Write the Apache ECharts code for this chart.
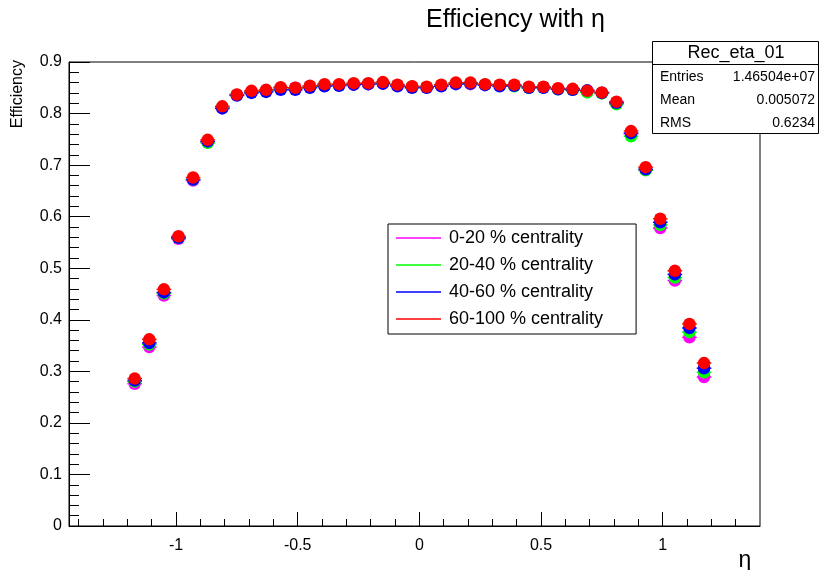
<!DOCTYPE html>
<html>
<head>
<meta charset="utf-8">
<script src="https://cdn.jsdelivr.net/npm/echarts@6/dist/echarts.min.js"></script>
<style>html,body{margin:0;padding:0;background:#fff}#c{width:821px;height:570px}</style>
</head>
<body>
<div id="c"></div>
<script>
const etaBins = [-1.17,-1.11,-1.05,-0.99,-0.93,-0.87,-0.81,-0.75,-0.69,-0.63,-0.57,-0.51,-0.45,-0.39,-0.33,-0.27,-0.21,-0.15,-0.09,-0.03,
                 0.03,0.09,0.15,0.21,0.27,0.33,0.39,0.45,0.51,0.57,0.63,0.69,0.75,0.81,0.87,0.93,0.99,1.05,1.11,1.17];
const binHalfWidth = 0.03;

const eff0_20   = [0.276,0.347,0.447,0.557,0.670,0.745,0.811,0.836,0.842,0.844,0.849,0.850,0.852,0.854,0.855,0.856,0.857,0.858,0.854,0.852,
                   0.851,0.854,0.858,0.857,0.856,0.854,0.854,0.851,0.851,0.848,0.846,0.843,0.840,0.820,0.761,0.691,0.578,0.476,0.366,0.289];
const eff20_40  = [0.280,0.352,0.451,0.559,0.672,0.743,0.812,0.836,0.842,0.845,0.849,0.849,0.852,0.855,0.855,0.857,0.858,0.859,0.855,0.852,
                   0.851,0.855,0.859,0.858,0.856,0.855,0.853,0.850,0.851,0.847,0.846,0.841,0.839,0.818,0.756,0.690,0.584,0.482,0.376,0.298];
const eff40_60  = [0.282,0.355,0.453,0.559,0.672,0.746,0.810,0.835,0.840,0.842,0.846,0.846,0.850,0.853,0.854,0.856,0.857,0.858,0.853,0.850,
                   0.850,0.853,0.857,0.858,0.855,0.853,0.854,0.850,0.850,0.847,0.846,0.845,0.840,0.821,0.762,0.692,0.589,0.488,0.384,0.306];
const eff60_100 = [0.286,0.362,0.459,0.562,0.676,0.749,0.814,0.837,0.844,0.846,0.851,0.850,0.854,0.857,0.857,0.859,0.859,0.861,0.856,0.853,
                   0.852,0.856,0.860,0.860,0.857,0.856,0.856,0.852,0.852,0.849,0.848,0.844,0.841,0.823,0.766,0.696,0.596,0.495,0.392,0.316];

const seriesNames  = ['0-20 % centrality','20-40 % centrality','40-60 % centrality','60-100 % centrality'];
const seriesColors = ['#ff00ff','#00ff00','#0000ff','#ff0000'];
const seriesValues = [eff0_20, eff20_40, eff40_60, eff60_100];

const xMajorTicks = [-1,-0.5,0,0.5,1];
const xTickLabels = ['-1','-0.5','0','0.5','1'];
const xMinorTicks = [-1.4,-1.3,-1.2,-1.1,-0.9,-0.8,-0.7,-0.6,-0.4,-0.3,-0.2,-0.1,0.1,0.2,0.3,0.4,0.6,0.7,0.8,0.9,1.1,1.2,1.3];
const yTickLabels = ['0','0.1','0.2','0.3','0.4','0.5','0.6','0.7','0.8','0.9'];

const statsTitle = 'Rec_eta_01';
const statsRows = [['Entries','1.46504e+07'],['Mean','0.005072'],['RMS','0.6234']];

const FONT = '"Liberation Sans", Arial, Helvetica, sans-serif';
const chart = echarts.init(document.getElementById('c'), null, {renderer:'canvas'});

const series = [];
seriesValues.forEach((vals, i) => {
  const pts = etaBins.map((x, j) => [x, vals[j]]);
  series.push({
    type: 'custom',
    silent: true,
    itemStyle: {color: seriesColors[i]},
    encode: {x: 0, y: 1},
    data: pts,
    renderItem: function (params, api) {
      const x = api.value(0), y = api.value(1);
      const p1 = api.coord([x - binHalfWidth, y]);
      const p2 = api.coord([x + binHalfWidth, y]);
      return {type: 'line', shape: {x1: p1[0], y1: p1[1], x2: p2[0], y2: p2[1]},
              style: {stroke: seriesColors[i], lineWidth: 1.5}};
    }
  });
  series.push({
    type: 'scatter',
    name: seriesNames[i],
    silent: true,
    symbol: 'circle',
    symbolSize: 12.5,
    itemStyle: {color: seriesColors[i], opacity: 1},
    data: pts
  });
});

const graphic = [
  {type:'text', x: 18, y: 60, rotation: Math.PI/2,
   style:{text:'Efficiency', font:'16px ' + FONT, fill:'#000', align:'right', verticalAlign:'middle'}},
  {type:'text', x: 745, y: 561,
   style:{text:'η', font:'23px ' + FONT, fill:'#000', align:'center', verticalAlign:'middle'}},
  {type:'rect', shape:{x:652.5, y:41.5, width:166, height:92}, style:{fill:'#fff', stroke:'#000', lineWidth:1}},
  {type:'line', shape:{x1:652.5, y1:64.5, x2:818.5, y2:64.5}, style:{stroke:'#000', lineWidth:1}},
  {type:'text', x: 736, y: 53, style:{text: statsTitle, font:'18px ' + FONT, fill:'#000', align:'center', verticalAlign:'middle'}}
];
statsRows.forEach((r, k) => {
  const yy = 77.3 + k * 23;
  graphic.push({type:'text', x: 660, y: yy, style:{text:r[0], font:'14px ' + FONT, fill:'#000', align:'left', verticalAlign:'middle'}});
  graphic.push({type:'text', x: 815, y: yy, style:{text:r[1], font:'14px ' + FONT, fill:'#000', align:'right', verticalAlign:'middle'}});
});

chart.setOption({
  animation: false,
  backgroundColor: '#fff',
  title: {text: 'Efficiency with η', left: 426, top: 8, padding: 0,
          textStyle: {fontSize: 25, fontWeight: 'normal', color: '#000', fontFamily: FONT}},
  grid: {left: 69, right: 61, top: 62, bottom: 44, show: true, borderColor: '#000', borderWidth: 1, backgroundColor: 'transparent'},
  legend: {
    orient: 'vertical', left: 388, top: 224, padding: [4, 33, 5, 8],
    itemWidth: 45, itemHeight: 1.5, itemGap: 7, icon: 'rect', selectedMode: false,
    borderColor: '#000', borderWidth: 1, backgroundColor: '#fff',
    textStyle: {fontSize: 18, color: '#000', fontFamily: FONT, lineHeight: 20, padding: [0, 0, 0, 3]},
    data: seriesNames
  },
  xAxis: [
    {type: 'value', min: -1.44, max: 1.40, position: 'bottom',
     axisLine: {show: true, onZero: false, lineStyle: {color: '#000', width: 1}},
     axisTick: {show: true, inside: true, length: 14, lineStyle: {color: '#000'}, customValues: xMajorTicks},
     axisLabel: {show: true, customValues: xMajorTicks, margin: 12, fontSize: 16, color: '#000', fontFamily: FONT,
                 formatter: v => { const k = xMajorTicks.findIndex(t => Math.abs(t - v) < 1e-9); return k >= 0 ? xTickLabels[k] : ''; }},
     splitLine: {show: false}},
    {type: 'value', min: -1.44, max: 1.40, position: 'bottom', gridIndex: 0,
     axisLine: {show: false, onZero: false},
     axisTick: {show: true, inside: true, length: 7, lineStyle: {color: '#000'}, customValues: xMinorTicks},
     axisLabel: {show: false},
     splitLine: {show: false}}
  ],
  yAxis: {type: 'value', min: 0, max: 0.9, interval: 0.1,
    axisLine: {show: true, onZero: false, lineStyle: {color: '#000', width: 1}},
    axisTick: {show: true, inside: true, length: 21, lineStyle: {color: '#000'}},
    minorTick: {show: true, splitNumber: 5, length: 10, lineStyle: {color: '#000'}},
    axisLabel: {margin: 7, fontSize: 16, color: '#000', fontFamily: FONT,
                formatter: v => yTickLabels[Math.round(v * 10)]},
    splitLine: {show: false}},
  series: series,
  graphic: graphic
});
</script>
</body>
</html>
